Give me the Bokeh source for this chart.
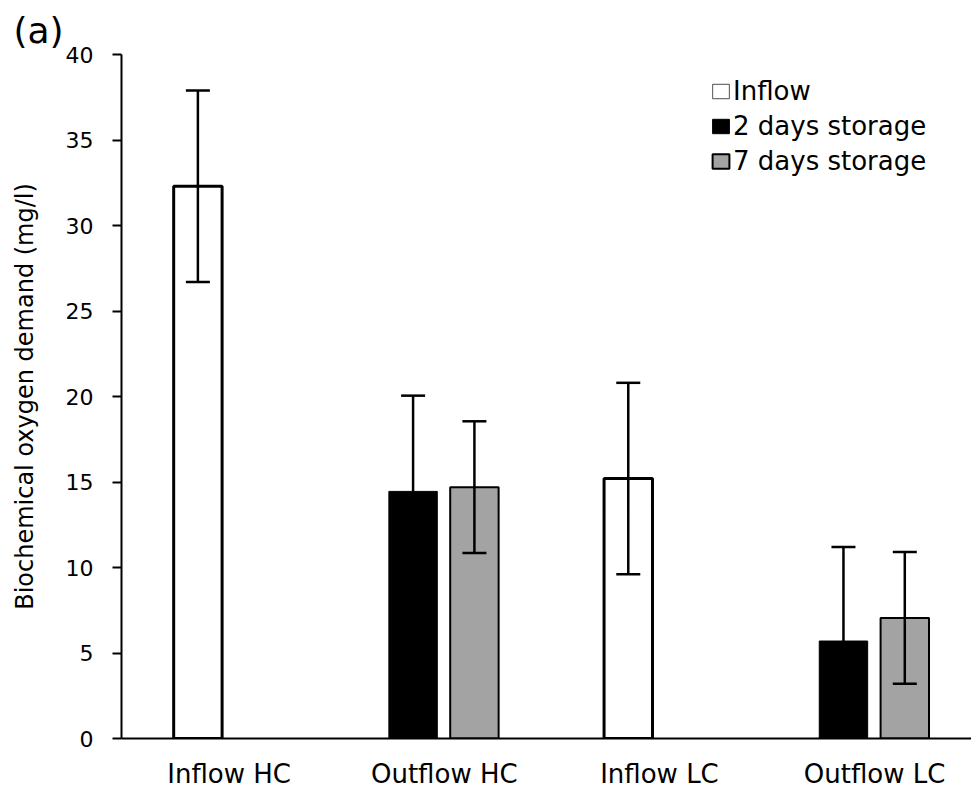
from bokeh.plotting import figure
from bokeh.models import (ColumnDataSource, Range1d, FixedTicker, Whisker, TeeHead,
                          Legend, LegendItem)
from bokeh.embed import file_html
from bokeh.resources import INLINE

# ---- data ----
categories = ["Inflow HC", "Outflow HC", "Inflow LC", "Outflow LC"]

inflow_cats = ["Inflow HC", "Inflow LC"]
inflow_mean = [32.3, 15.2]
inflow_err = [5.6, 5.6]

days2_cats = ["Outflow HC", "Outflow LC"]
days2_mean = [14.45, 5.7]
days2_err = [5.6, 5.5]

days7_cats = ["Outflow HC", "Outflow LC"]
days7_mean = [14.7, 7.05]
days7_err = [3.85, 3.85]

y_ticks = [0, 5, 10, 15, 20, 25, 30, 35, 40]

# ---- layout constants ----
FONT = "DejaVu Sans"
LEFT_OFF = -0.145
RIGHT_OFF = 0.14
BAR_W = 0.225
GRAY = "#a3a3a3"


def src(cats, mean, err, off):
    xs = [categories.index(c) + 0.5 + off for c in cats]
    return ColumnDataSource(dict(
        x=xs, top=mean,
        upper=[m + e for m, e in zip(mean, err)],
        lower=[m - e for m, e in zip(mean, err)],
    ))


s_in = src(inflow_cats, inflow_mean, inflow_err, LEFT_OFF)
s_2 = src(days2_cats, days2_mean, days2_err, LEFT_OFF)
s_7 = src(days7_cats, days7_mean, days7_err, RIGHT_OFF)

p = figure(width=971, height=791, output_backend="svg", toolbar_location=None,
           x_range=Range1d(0, 3.95), y_range=Range1d(0, 40),
           min_border_left=121, min_border_right=0, min_border_top=54,
           min_border_bottom=50)
p.outline_line_color = None
p.xgrid.visible = False
p.ygrid.visible = False
p.background_fill_color = "white"
p.border_fill_color = "white"

p.title.text = "(a)"
p.title.text_font = FONT
p.title.text_font_size = "36px"
p.title.text_font_style = "normal"
p.title.text_color = "black"
p.title.align = "left"
p.title.offset = -108
p.title.standoff = 8

# thin-outlined copy underneath the inflow bars (used as the legend swatch)
r_in_leg = p.vbar(x="x", top="top", width=BAR_W, bottom=0, source=s_in,
                  fill_color="white", line_color="#707070", line_width=1.2)
r_in = p.vbar(x="x", top="top", width=BAR_W, bottom=0, source=s_in,
              fill_color="white", line_color="black", line_width=3)
r_2 = p.vbar(x="x", top="top", width=BAR_W, bottom=0, source=s_2,
             fill_color="black", line_color="black", line_width=1)
r_7 = p.vbar(x="x", top="top", width=BAR_W, bottom=0, source=s_7,
             fill_color=GRAY, line_color="black", line_width=2)

for s in (s_in, s_2, s_7):
    w = Whisker(base="x", upper="upper", lower="lower", source=s, level="overlay",
                line_color="black", line_width=2.5,
                upper_head=TeeHead(size=24, line_color="black", line_width=2.5),
                lower_head=TeeHead(size=24, line_color="black", line_width=2.5))
    p.add_layout(w)

legend = Legend(items=[
    LegendItem(label="Inflow", renderers=[r_in_leg]),
    LegendItem(label="2 days storage", renderers=[r_2]),
    LegendItem(label="7 days storage", renderers=[r_7]),
], location=(589, 562))
legend.label_text_font = FONT
legend.label_text_font_size = "26px"
legend.label_text_color = "black"
legend.glyph_width = 21
legend.glyph_height = 18
legend.label_standoff = 2
legend.spacing = 5
legend.padding = 0
legend.margin = 0
legend.border_line_color = None
legend.background_fill_alpha = 0
p.add_layout(legend)

# axes
p.yaxis.ticker = FixedTicker(ticks=y_ticks)
p.yaxis.axis_label = "Biochemical oxygen demand (mg/l)"
p.yaxis.axis_label_text_font = FONT
p.yaxis.axis_label_text_font_size = "24px"
p.yaxis.axis_label_text_font_style = "normal"
p.yaxis.axis_label_text_color = "black"
p.yaxis.axis_label_standoff = 24
p.yaxis.major_label_text_font = FONT
p.yaxis.major_label_text_font_size = "22px"
p.yaxis.major_label_text_color = "black"
p.yaxis.major_label_standoff = 19
p.yaxis.major_tick_out = 9
p.yaxis.major_tick_in = 0
p.yaxis.minor_tick_line_color = None
p.yaxis.axis_line_width = 2
p.yaxis.major_tick_line_width = 2
p.yaxis.axis_line_color = "black"
p.yaxis.major_tick_line_color = "black"

p.xaxis.ticker = FixedTicker(ticks=[i + 0.5 for i in range(len(categories))])
p.xaxis.major_label_overrides = {i + 0.5: c for i, c in enumerate(categories)}
p.xaxis.major_label_text_font = FONT
p.xaxis.major_label_text_font_size = "26px"
p.xaxis.major_label_text_color = "black"
p.xaxis.major_label_standoff = 14
p.xaxis.major_tick_line_color = None
p.xaxis.minor_tick_line_color = None
p.xaxis.axis_line_width = 2
p.xaxis.axis_line_color = "black"

open("out.html", "w").write(file_html(p, INLINE))
